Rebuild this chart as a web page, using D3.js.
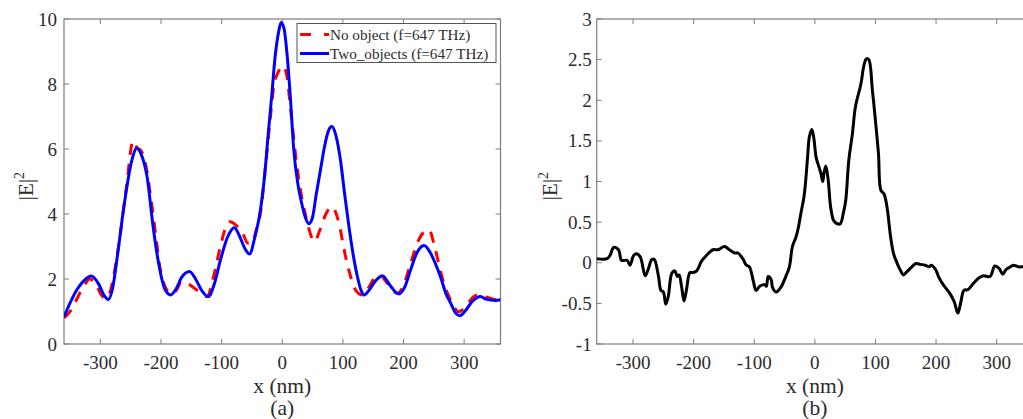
<!DOCTYPE html>
<html>
<head>
<meta charset="utf-8">
<script src="https://cdn.jsdelivr.net/npm/d3@7"></script>
<style>
  html, body { margin: 0; padding: 0; background: #fff; }
  svg { display: block; }
  svg text { font-family: 'Liberation Serif', 'DejaVu Serif', serif; fill: #2b2b2b; }
</style>
</head>
<body>
<svg id="fig" width="1023" height="419"></svg>
<script>
// ---- Panel (a): |E|^2 profiles at f = 647 THz ----
const twoObjX = [-360,-339,-327,-315,-303,-294,-287,-280,-272,-262,-248,-240,-233,-223,-213,-204,-193,-184,-175,-166,-153,-143,-133,-122,-112,-102,-90,-79,-70,-62,-54,-45,-36,-29,-23,-17,-12,-6,-2,3,8,13,19,26,32,38,44,50,56,63,70,76,82,88,96,103,110,117,124,130,135,143,152,165,178,192,202,212,222,234,243,252,261,270,278,286,293,302,313,327,336,344,352,360];
const twoObjY = [0.84,1.66,1.95,2.09,1.85,1.5,1.37,1.7,2.7,4.12,5.66,6.02,5.85,5.15,3.61,2.49,1.66,1.51,1.7,2.05,2.23,2.0,1.65,1.46,1.85,2.58,3.3,3.58,3.3,2.95,2.77,3.3,4.12,5.2,6.49,7.71,8.8,9.6,9.89,9.7,8.9,7.7,5.97,4.9,4.33,3.9,3.7,3.9,4.6,5.35,6.1,6.55,6.69,6.45,5.66,4.6,3.61,2.75,2.07,1.65,1.51,1.65,1.9,2.1,1.8,1.54,1.75,2.3,2.8,3.03,2.85,2.5,2.07,1.55,1.25,0.95,0.87,1.02,1.3,1.46,1.38,1.35,1.34,1.36];

const noObjX = [-360,-348,-334,-325,-318,-308,-298,-291,-284,-278,-270,-257,-246,-240,-232,-224,-217,-209,-202,-194,-183,-175,-166,-155,-141,-132,-124,-113,-102,-94,-86,-76,-65,-57,-50,-43,-36,-28,-20,-14,-7,1,7,14,21,27,32,38,43,53,62,72,82,90,96,101,107,114,121,132,143,154,162,172,182,190,200,212,225,236,242,250,258,266,275,283,291,300,316,326,336,348,360];
const noObjY = [0.8,1.05,1.56,1.85,2.0,1.85,1.5,1.4,1.6,2.1,3.0,4.84,6.25,6.05,5.92,5.4,4.53,3.4,2.38,1.8,1.55,1.65,1.92,1.85,1.66,1.55,1.46,2.1,3.0,3.55,3.76,3.65,3.4,3.1,3.1,3.5,4.02,5.4,6.9,7.92,8.35,8.55,8.3,7.2,5.97,5.1,4.53,4.0,3.61,3.15,3.5,4.0,4.22,3.95,3.5,3.0,2.48,2.0,1.66,1.51,1.75,2.07,2.1,1.9,1.65,1.56,1.8,2.5,3.2,3.48,3.51,3.1,2.48,1.9,1.46,1.15,0.99,1.1,1.46,1.52,1.45,1.38,1.35];

// ---- Panel (b): difference of |E|^2 ----
const diffX = [-360,-343,-338,-332,-324,-319,-310,-305,-299,-294,-288,-280,-275,-269,-265,-258,-254,-250,-246,-242,-236,-231,-227,-224,-220,-216,-212,-206,-201,-195,-187,-179,-168,-160,-149,-141,-132,-127,-119,-113,-108,-102,-97,-91,-83,-80,-77,-72,-70,-64,-56,-48,-42,-37,-31,-27,-23,-18,-15,-12,-9,-5,-2,2,5,10,13,15,18,22,26,31,37,42,47,51,56,62,67,76,81,85,89,95,100,105,109,114,119,125,130,136,141,146,152,160,167,174,182,189,192,199,204,211,218,223,230,236,241,246,253,261,270,278,289,297,304,310,316,323,327,336,343,352,360];
const diffY = [0.05,0.05,0.09,0.19,0.16,0.03,0.03,-0.03,0.09,0.11,0.07,-0.16,-0.08,0.04,0.04,-0.17,-0.34,-0.36,-0.51,-0.42,-0.13,-0.1,-0.17,-0.15,-0.29,-0.47,-0.34,-0.12,-0.12,-0.1,0.02,0.09,0.16,0.16,0.2,0.16,0.12,0.12,0.05,-0.03,-0.05,-0.21,-0.34,-0.29,-0.27,-0.29,-0.17,-0.21,-0.3,-0.36,-0.3,-0.17,-0.05,0.2,0.32,0.44,0.61,0.81,1.02,1.3,1.55,1.64,1.55,1.3,1.22,1.1,1.0,1.1,1.19,1.02,0.69,0.52,0.48,0.48,0.61,0.77,1.26,1.59,1.92,2.2,2.43,2.51,2.5,2.12,1.75,1.34,0.89,0.85,0.69,0.32,0.11,-0.01,-0.09,-0.15,-0.11,-0.05,-0.01,-0.02,-0.03,-0.05,-0.03,-0.08,-0.17,-0.26,-0.33,-0.38,-0.48,-0.62,-0.48,-0.34,-0.33,-0.26,-0.19,-0.16,-0.17,-0.04,-0.07,-0.14,-0.08,-0.05,-0.03,-0.05,-0.05,-0.05,-0.05];

// Tick values
const xTicks = [-300,-200,-100,0,100,200,300];
const yTicksA = [0,2,4,6,8,10];
const yTicksB = [-1,-0.5,0,0.5,1,1.5,2,2.5,3];

// Legend entries for panel (a)
const legendLabels = ["No object (f=647 THz)", "Two_objects (f=647 THz)"];
const seriesColors = ["#ff0000", "#0000ff"];

const serif = "'Liberation Serif', 'DejaVu Serif', serif";
const svg = d3.select("#fig").attr("font-family", serif);
svg.append("rect").attr("width", 1023).attr("height", 419).attr("fill", "#fff");

const axisColor = "#7d7d7d";
const plotTop = 19, plotBottom = 344;

function panel(opts) {
  const x = d3.scaleLinear().domain([-360, 360]).range([opts.left, opts.right]);
  const y = d3.scaleLinear().domain(opts.yDomain).range([plotBottom, plotTop]);
  const g = svg.append("g").attr("font-family", serif);

  const clipId = "clip-" + opts.id;
  svg.append("clipPath").attr("id", clipId)
    .append("rect").attr("x", opts.left).attr("y", plotTop)
    .attr("width", opts.right - opts.left).attr("height", plotBottom - plotTop);

  // box
  g.append("rect")
    .attr("x", opts.left).attr("y", plotTop)
    .attr("width", opts.right - opts.left).attr("height", plotBottom - plotTop)
    .attr("fill", "none").attr("stroke", axisColor).attr("stroke-width", 1.2);

  // inward ticks on all four sides
  const tl = 5;
  const tg = g.append("g").attr("stroke", axisColor).attr("stroke-width", 1);
  xTicks.forEach(v => {
    const px = x(v);
    tg.append("line").attr("x1", px).attr("x2", px).attr("y1", plotBottom).attr("y2", plotBottom - tl);
    tg.append("line").attr("x1", px).attr("x2", px).attr("y1", plotTop).attr("y2", plotTop + tl);
  });
  opts.yTicks.forEach(v => {
    const py = y(v);
    tg.append("line").attr("x1", opts.left).attr("x2", opts.left + tl).attr("y1", py).attr("y2", py);
    tg.append("line").attr("x1", opts.right).attr("x2", opts.right - tl).attr("y1", py).attr("y2", py);
  });

  // tick labels
  g.selectAll(".xl").data(xTicks).enter().append("text")
    .attr("font-family", serif)
    .attr("x", d => x(d)).attr("y", 369)
    .attr("text-anchor", "middle").attr("font-size", 19)
    .text(d => d);
  g.selectAll(".yl").data(opts.yTicks).enter().append("text")
    .attr("font-family", serif)
    .attr("x", opts.left - opts.yGap).attr("y", d => y(d) + 6.5)
    .attr("text-anchor", "end").attr("font-size", 19)
    .text(d => d);

  // axis titles
  g.append("text").attr("font-family", serif).attr("x", x(0)).attr("y", 393)
    .attr("text-anchor", "middle").attr("font-size", 21.5).text("x (nm)");
  g.append("text").attr("font-family", serif).attr("x", x(0)).attr("y", 415)
    .attr("text-anchor", "middle").attr("font-size", 21.5).text(opts.tag);

  const yl = g.append("text").attr("font-family", serif)
    .attr("transform", `translate(${opts.ylabX},186) rotate(-90)`)
    .attr("text-anchor", "middle").attr("font-size", 21);
  yl.append("tspan").text("|E|");
  yl.append("tspan").attr("font-size", 14).attr("dy", -9).text("2");

  return { x, y, g, clipId };
}

// ---- Panel (a) ----
const A = panel({ id: "a", left: 64, right: 500.5, yDomain: [0, 10], yTicks: yTicksA, yGap: 7, tag: "(a)", ylabX: 33 });
const lineA = (xs) => d3.line().x((d, i) => A.x(xs[i])).y(d => A.y(d)).curve(d3.curveMonotoneX);

A.g.append("path").datum(noObjY)
  .attr("clip-path", `url(#${A.clipId})`)
  .attr("d", lineA(noObjX))
  .attr("fill", "none").attr("stroke", seriesColors[0]).attr("stroke-width", 3)
  .attr("stroke-dasharray", "11,9");
A.g.append("path").datum(twoObjY)
  .attr("clip-path", `url(#${A.clipId})`)
  .attr("d", lineA(twoObjX))
  .attr("fill", "none").attr("stroke", seriesColors[1]).attr("stroke-width", 3);

// legend
const lg = A.g.append("g");
lg.append("rect").attr("x", 297).attr("y", 23.5).attr("width", 199).attr("height", 39)
  .attr("fill", "#fff").attr("stroke", "#555").attr("stroke-width", 1);
legendLabels.forEach((lab, i) => {
  const cy = 34.5 + i * 19;
  lg.append("line").attr("x1", 300).attr("x2", 329).attr("y1", cy).attr("y2", cy)
    .attr("stroke", seriesColors[i]).attr("stroke-width", 3)
    .attr("stroke-dasharray", i === 0 ? "11,13" : null);
  lg.append("text").attr("font-family", serif).attr("x", 330).attr("y", cy + 5)
    .attr("font-size", 15.2).text(lab);
});

// ---- Panel (b) ----
const B = panel({ id: "b", left: 596.7, right: 1033, yDomain: [-1, 3], yTicks: yTicksB, yGap: 5, tag: "(b)", ylabX: 557 });
B.g.append("path").datum(diffY)
  .attr("clip-path", `url(#${B.clipId})`)
  .attr("d", d3.line().x((d, i) => B.x(diffX[i])).y(d => B.y(d)).curve(d3.curveCatmullRom.alpha(0.5)))
  .attr("fill", "none").attr("stroke", "#000").attr("stroke-width", 3)
  .attr("stroke-linejoin", "round");
</script>
</body>
</html>
